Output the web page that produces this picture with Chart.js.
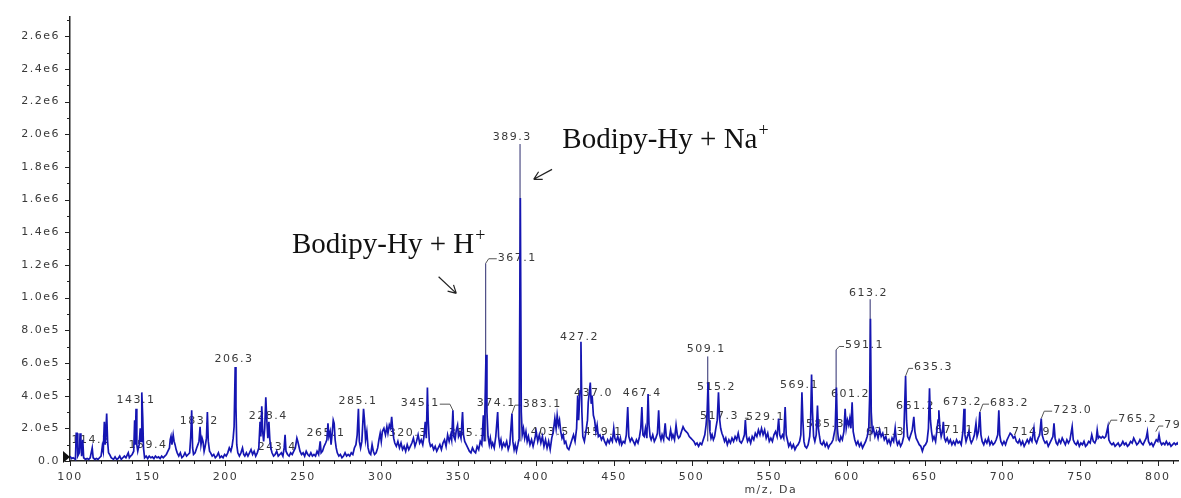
<!DOCTYPE html>
<html>
<head>
<meta charset="utf-8">
<script src="https://cdn.jsdelivr.net/npm/chart.js@4/dist/chart.umd.min.js"></script>
<style>
  html, body { margin: 0; padding: 0; background: #fff; }
  #wrap { position: relative; width: 1181px; height: 498px; }
</style>
</head>
<body>
<div id="wrap"><canvas id="spec"></canvas></div>
<script>
// ===== Spectrum data: [m/z, intensity in 1e5 counts] =====
const profileA = [
  [100,0.3],[101,0.15],[102,0.2],[103.5,0.1],[104,1.7],[104.6,1.7],[105,0.3],[106,0.5],[106.5,1.7],[107,1.2],
  [107.5,0.3],[108.2,1.3],[108.8,0.2],[110,0.1],[111,0.15],[112,0.1],[113,0.2],[114.3,0.8],[114.9,0.2],[116,0.1],
  [117,0.15],[118,0.1],[119,0.2],[120,0.3],[120.8,0.9],[121.4,0.6],[122.1,2.4],[122.7,1.0],[123.6,2.9],[124.2,1.2],
  [124.8,0.5],[125.5,0.4],[126.5,0.2],[128,0.1],[129,0.25],[130,0.1],[131,0.15],[132,0.3],[133,0.1],[134,0.2],
  [135,0.3],[136,0.2],[137.5,0.5],[138.2,0.2],[139,0.3],[140,0.4],[141,0.6],[141.6,2.5],[142,1.0],[142.5,3.2],
  [143,1.0],[143.6,0.6],[144.5,1.0],[145.2,2.0],[145.7,1.2],[146.2,4.2],[146.8,2.7],[147.3,0.8],[148,0.2],[149,0.3],
  [150,0.15],[151,0.3],[152,0.2],[153,0.25],[154,0.15],[155,0.3],[156,0.2],[157,0.25],[158,0.15],[159,0.3],
  [160,0.2],[161,0.3],[162,0.4],[163,0.6],[164,0.8],[164.5,1.3],[165,1.5],[165.6,1.0],[166.4,1.6],[167,1.2],
  [167.6,1.0],[168.3,0.7],[169,0.5],[170,0.3],[171,0.5],[172,0.2],[173,0.3],[174,0.5],[175,0.3],[176,0.4],
  [177,0.5],[177.7,1.5],[178.3,3.1],[178.9,0.8],[179.5,0.4],[180.5,0.5],[181.5,0.8],[182.3,1.0],[183,1.2],[183.7,2.1],
  [184.3,1.0],[185,1.4],[185.6,1.2],[186.3,0.6],[187,0.9],[187.8,1.4],[188.4,3.0],[189,1.2],[189.8,0.6],[190.5,0.5],
  [191.5,0.3],[192.5,0.4],[193.5,0.2],[194.5,0.3],[195.5,0.5],[196.5,0.2],[197.5,0.3],[198.5,0.2],[199.5,0.4],[200.5,0.3],
  [201.5,0.5],[202.5,0.8],[203.5,0.6],[204.3,0.9],[205,1.4],[205.6,2.1],[206.3,5.75],[206.8,3.3],[207.3,1.0],[208,0.5],
  [209,0.3],[210,0.5],[211,0.8],[211.8,0.4],[212.5,0.3],[213.5,0.5],[214.5,0.3],[215.5,0.5],[216.5,0.7],[217.5,0.4],
  [218.5,0.6],[219.5,0.3],[220.5,0.5],[221.5,0.8],[222.3,2.4],[222.8,1.5],[223.4,3.35],[224,1.8],[224.6,1.2],[225.3,2.0],
  [226,3.9],[226.6,2.6],[227.3,1.4],[228,2.4],[228.6,1.3],[229.2,0.8],[230,0.5],[231,0.3],[232,0.4],[233,0.6],
  [234,0.3],[235,0.4],[236,0.5],[237,0.3],[237.8,0.8],[238.4,1.6],[239,0.6],[240,0.4],[241,0.3],[242,0.5],
  [243,0.4],[244,0.6],[245,0.8],[246,1.4],[246.6,1.2],[247.3,0.9],[248,0.6],[249,0.4],[250,0.5]
];
const profileB = [
  [251,0.3],[252,0.6],[253,0.4],[254,0.3],[255,0.5],[256,0.3],[257,0.4],[258,0.3],[259,0.6],[260,0.4],
  [261,1.2],[261.6,0.5],[262.5,0.6],[263.5,0.9],[264.5,1.1],[265.3,1.3],[266,2.3],[266.6,1.5],[267.4,1.8],[268,1.0],
  [268.8,1.8],[269.4,2.5],[270,2.3],[270.6,1.3],[271.3,0.8],[272,0.5],[273,0.3],[274,0.4],[275,0.2],[276,0.3],
  [277,0.5],[278,0.3],[279,0.4],[280,0.3],[281,0.5],[282,0.4],[283,0.8],[284,1.0],[284.8,1.6],[285.6,3.2],
  [286.2,1.2],[287,0.8],[287.8,1.2],[288.9,3.2],[289.5,2.5],[290.2,1.3],[291,1.8],[291.8,0.8],[292.6,0.5],[293.5,0.4],
  [294.4,1.0],[295.2,0.6],[296,0.4],[297,0.5],[298,0.8],[298.8,1.3],[299.6,1.7],[300.3,1.2],[301,1.8],[302,2.0],
  [303,1.6],[303.9,2.1],[304.6,1.7],[305.5,2.2],[306.3,2.0],[307,2.7],[307.6,2.0],[308.3,1.4],[309,1.1],[310,0.9],
  [311,1.2],[312,0.8],[313,1.1],[314,0.7],[315,0.9],[316,0.6],[317,1.0],[318,0.7],[319,0.9],[320,1.1],
  [321,1.4],[322,0.9],[323,1.2],[324,1.6],[325,1.1],[326,1.3],[327,1.0],[327.8,1.5],[328.6,2.4],[329.3,1.4],
  [330,4.5],[330.5,2.5],[331.2,1.2],[332,0.9],[333,1.0],[334,0.7],[335,0.9],[336,0.6],[337,0.8],[338,1.0],
  [339,0.7],[340,1.1],[341,1.3],[342,0.9],[343,1.6],[344,1.2],[345,1.6],[345.6,1.3],[346.4,3.1],[347,1.5],
  [347.8,1.3],[348.6,1.9],[349.4,2.2],[350,1.5],[350.8,1.7],[351.6,1.4],[352.6,3.0],[353.2,1.6],[354,1.2],[355,1.0],
  [356,0.8],[357,0.6],[358,0.5],[359,0.8],[360,0.6],[361,0.5],[362,0.9],[363,0.7],[364,1.2],[365,1.0],
  [366,2.8],[366.6,1.2],[367.7,6.5],[368.3,3.0],[369,1.5],[369.8,1.0],[370.5,1.4],[371.3,0.9],[372,1.1],[373,0.8],
  [374,1.5],[375.2,3.0],[375.8,1.5],[376.5,1.0],[377.3,1.3],[378,0.8],[379,1.1],[380,0.9],[381,1.2],[382,0.7],
  [383,1.0],[384.4,2.9],[385,1.2],[385.8,0.7],[386.5,1.0],[387.3,0.6],[388.2,1.0],[389,1.4],[389.8,16.1],[390.4,3.0],
  [391,1.6],[391.8,2.0],[392.6,1.4],[393.4,1.8],[394.2,1.2],[395,1.5],[396,1.0],[397,1.3],[398,0.9],[399,1.3],[400,1.8]
];
const profileC = [
  [401,1.2],[402,1.6],[403,1.1],[404,1.5],[405,0.9],[406,1.3],[407,0.8],[408,1.2],[409,0.7],[410,1.4],
  [411,1.8],[412,2.6],[412.8,2.0],[413.5,2.8],[414.3,2.2],[415,2.5],[415.8,1.8],[416.6,1.4],[417.4,1.6],[418.2,1.1],
  [419,1.2],[420,0.8],[421,0.7],[422,1.0],[423,1.3],[424,1.6],[425,1.2],[426,2.0],[426.7,4.0],[427.3,2.5],
  [428.2,4.3],[428.8,7.3],[429.4,3.0],[430,1.5],[431,1.2],[432,1.8],[433,2.5],[433.5,3.6],[434.2,4.2],[434.8,4.8],
  [435.4,3.5],[436,4.0],[436.8,2.8],[437.6,2.5],[438.4,1.8],[439.2,2.2],[440,1.5],[441,1.6],[442,1.3],[443,1.5],
  [444,1.2],[445,1.0],[446,1.3],[447,1.1],[448,1.4],[449,1.2],[449.9,2.0],[450.6,1.4],[451.5,1.2],[452.5,1.5],
  [453.5,1.1],[454.2,1.4],[455,1.0],[456,1.2],[457,1.1],[458,1.6],[458.9,3.3],[459.6,1.5],[460.5,1.2],[461.5,1.4],
  [462.5,1.2],[463.5,1.0],[464.5,1.3],[465.5,1.1],[466.5,1.5],[467.3,2.0],[468,3.3],[468.7,1.6],[469.5,1.5],[470.3,2.0],
  [471.2,1.4],[472,4.1],[472.6,2.2],[473.3,1.5],[474,1.3],[475,1.6],[476,1.2],[477,1.4],[478,1.7],[478.8,3.1],
  [479.5,1.6],[480.3,1.3],[481,1.6],[482,1.3],[483,2.3],[483.7,1.5],[484.5,1.4],[485.5,1.3],[486.5,1.9],[487.3,1.4],
  [488,1.6],[489,1.3],[490,2.2],[490.8,1.6],[491.6,1.4],[492.5,1.5],[493.5,1.8],[494.5,2.1],[495.5,1.9],[496.5,1.8],
  [497.5,1.7],[498.5,1.5],[499.5,1.4],[500.5,1.3],[501.5,1.2],[502.5,1.0],[503.5,1.1],[504.5,0.9],[505.5,1.1],[506.5,1.0],
  [507.5,1.3],[508.5,1.6],[509.3,2.2],[510,3.0],[510.6,4.8],[511.2,2.5],[511.8,1.8],[512.5,1.4],[513.2,1.6],[514,1.3],
  [514.8,1.5],[515.6,2.0],[516.5,2.5],[517.3,4.2],[518,2.6],[518.7,2.0],[519.5,1.7],[520.3,1.5],[521.2,1.2],[522,1.4],
  [523,1.0],[524,1.3],[525,1.1],[526,1.4],[527,1.2],[528,1.5],[529,1.3],[530,1.7],[531,1.2],[532,1.1],
  [533,1.3],[534,1.6],[534.6,2.5],[535.3,1.5],[536,1.2],[537,1.4],[538,1.1],[539,1.5],[540,1.3],[541,1.7],
  [542,1.5],[543,1.9],[544,1.6],[545,2.0],[546,1.6],[547,1.9],[548,1.4],[549,1.7],[550,1.2]
];
const profileD = [
  [551,1.4],[552,1.2],[553,1.6],[554,1.8],[555,1.5],[556,2.6],[556.7,1.6],[557.5,1.4],[558.5,1.6],[559.3,1.4],
  [560.2,3.3],[560.9,1.6],[561.6,1.3],[562.5,0.9],[563.5,1.1],[564.5,0.8],[565.5,1.0],[566.5,0.7],[567.5,0.9],[568.5,1.0],
  [569.5,1.2],[570.3,1.6],[571,4.2],[571.6,2.5],[572.3,1.2],[573,0.9],[574,0.8],[575,1.0],[576,1.5],[576.6,2.5],
  [577.2,5.3],[577.8,3.0],[578.5,1.5],[579.3,1.2],[580.2,1.6],[581,3.4],[581.6,2.0],[582.3,1.5],[583,1.1],[584,1.0],
  [585,1.2],[586,0.9],[587,1.1],[588,0.8],[589,1.0],[590,1.1],[591,1.3],[592.4,2.0],[593.2,4.5],[593.8,2.0],
  [594.5,1.3],[595.3,1.2],[596,1.5],[597,1.3],[598,1.8],[598.8,3.2],[599.5,2.0],[600.3,2.5],[601.1,2.2],[601.8,2.6],
  [602.5,2.0],[603.3,3.6],[604,1.8],[605,1.3],[606,1.0],[607,1.2],[608,0.9],[609,1.1],[610,0.8],[611,1.0],
  [612,1.2],[613,1.5],[614,2.0],[614.6,4.0],[615.1,8.7],[615.6,3.0],[616.3,1.8],[617,2.0],[618,1.5],[619,1.8],
  [620,1.4],[621,1.9],[622,1.5],[623,1.7],[624,1.3],[625,1.5],[626,1.1],[627,1.3],[628,1.0],[629,1.4],
  [630,1.2],[631,2.0],[631.7,1.3],[632.5,1.0],[633.5,1.2],[634.5,0.9],[635.5,1.1],[636.5,1.5],[637.7,5.2],[638.3,2.5],
  [639,1.5],[640,1.3],[641,1.6],[642,1.9],[643,2.7],[643.7,1.8],[644.5,1.4],[645.5,1.2],[646.5,1.0],[647.5,0.9],
  [648.5,0.6],[649.5,0.9],[650.5,1.0],[651.5,1.2],[652.4,2.0],[653.1,4.45],[653.7,2.5],[654.4,1.8],[655.2,1.3],[656,1.5],
  [657,1.2],[658,2.0],[658.6,2.5],[659.1,3.1],[659.8,2.0],[660.6,1.5],[661.4,1.8],[662,2.4],[662.7,1.4],[663.5,1.2],
  [664.5,1.4],[665.5,1.1],[666.5,1.3],[667.5,1.0],[668.5,1.2],[669.5,1.0],[670.5,1.3],[671.5,1.1],[672.5,1.2],[673.5,1.0],
  [674.6,1.8],[675.3,3.2],[675.9,1.6],[676.6,1.2],[677.5,1.5],[678.4,1.8],[679.3,1.3],[680,1.1],[681,1.3],[682,1.6],
  [683,2.3],[683.7,1.5],[684.6,1.8],[685.5,3.0],[686.2,1.6],[687,1.2],[688,1.0],[689,1.3],[690,1.1],[691,1.4],
  [692,1.0],[693,1.2],[694,1.0],[695,1.1],[696,1.3],[697,1.6],[697.7,3.1],[698.3,1.6],[699,1.2],[700,1.0]
];
const profileE = [
  [701,1.2],[702,1.0],[703,1.3],[704,1.5],[705,1.7],[706,1.6],[707,1.4],[708,1.5],[709,1.2],[710,1.1],
  [711,1.3],[712,1.0],[713,1.2],[714,0.9],[715,1.1],[716,1.3],[717,1.1],[718,1.4],[719,1.2],[720.3,2.0],
  [721,1.3],[722,1.1],[723,1.4],[724,1.6],[725,2.6],[725.6,1.6],[726.5,1.3],[727.5,1.1],[728.5,1.2],[729.5,0.9],
  [730.5,1.1],[731.5,1.3],[732.5,1.5],[733.2,2.3],[733.9,1.4],[734.7,1.1],[735.5,1.0],[736.5,1.3],[737.5,1.1],[738.5,1.4],
  [739.5,1.2],[740.5,1.0],[741.5,1.3],[742.5,1.1],[743.5,1.3],[744.9,2.1],[745.6,1.3],[746.5,1.1],[747.5,1.0],[748.5,1.2],
  [749.5,0.9],[750.5,1.1],[751.5,1.0],[752.5,1.2],[753.5,0.9],[754.5,1.0],[755.5,1.2],[756.5,1.1],[757.5,1.6],[758.5,1.2],
  [759.5,1.1],[760.3,1.3],[761,1.9],[761.7,1.4],[762.5,1.5],[763.5,1.4],[764.5,1.5],[765.5,1.4],[766.5,1.5],[767.9,2.1],
  [768.5,1.3],[769.5,1.1],[770.5,1.0],[771.5,1.1],[772.5,0.9],[773.5,1.0],[774.5,1.1],[775.5,0.9],[776.5,1.0],[777.5,1.2],
  [778.5,1.0],[779.5,1.1],[780.5,0.9],[781.5,1.0],[782.5,1.2],[783.5,1.1],[784.5,1.4],[785.5,1.2],[786.5,1.0],[787.5,1.1],
  [788.5,1.3],[789.5,1.1],[790.5,1.0],[791.5,1.2],[792.5,1.4],[793.3,1.8],[794,1.2],[795,1.0],[796,1.1],[797,0.9],
  [798,1.1],[799,1.3],[800,1.2],[800.8,1.6],[801.5,1.2],[802.5,1.0],[803.5,1.1],[804.5,1.0],[805.5,1.2],[806.5,1.0],
  [807.5,1.1],[808.5,0.9],[809.5,1.0],[810.5,1.1],[811.5,1.0],[812.5,1.1],[813,1.0]
];

// thin centroid sticks that rise above the profile
const stickMz  = [367.5, 389.6, 510.4, 593.0, 614.9];
const stickTop = [12.1, 19.4, 6.4, 6.8, 9.9];

// axis tick values
const yTicks = [0, 2e5, 4e5, 6e5, 8e5, 1e6, 1.2e6, 1.4e6, 1.6e6, 1.8e6, 2e6, 2.2e6, 2.4e6, 2.6e6];
const xTicks = [100, 150, 200, 250, 300, 350, 400, 450, 500, 550, 600, 650, 700, 750, 800];

// peak labels (text centre in data units) and optional leader target
const peakLabels = ["114.2","143.1","159.4","183.2","206.3","228.4","243.4","265.1","285.1","320.3",
                    "345.1","355.1","374.1","383.1","367.1","389.3","403.5","427.2","437.0","459.1",
                    "467.4","509.1","515.2","517.3","529.1","569.1","585.3","591.1","601.2","613.2",
                    "621.3","635.3","661.2","671.1","673.2","683.2","714.9","723.0","765.2","793.1"];
const labelMz  = [113.5,142.5,150.2,183.1,205.6,227.5,233.3,264.8,285.4,317.6,
                  325.4,356.3,374.3,403.9,387.8,384.6,409.1,427.8,436.8,443.2,
                  468.3,509.5,516.0,517.9,547.5,569.4,586.2,611.3,602.3,613.8,
                  624.8,655.7,644.1,669.2,674.4,704.6,718.8,745.2,787.1,816.7];
const labelInt = [1.28,3.72,0.98,2.44,6.22,2.74,0.85,1.71,3.66,1.71,
                  3.54,1.71,3.54,3.48,12.44,19.82,1.77,7.56,4.15,1.77,
                  4.15,6.83,4.51,2.74,2.68,4.63,2.26,7.07,4.09,10.30,
                  1.77,5.73,3.35,1.89,3.60,3.54,1.77,3.11,2.56,2.2];
const leaderMz  = [null,null,null,null,null,null,null,null,null,null,
                   346.4,null,null,384.4,367.5,null,null,null,null,null,
                   null,null,null,null,534.6,null,null,593.0,null,null,
                   null,637.7,null,null,null,685.5,null,725.0,767.9,798.7];
const leaderInt = [null,null,null,null,null,null,null,null,null,null,
                   3.1,null,null,2.9,12.1,null,null,null,null,null,
                   null,null,null,null,2.5,null,null,6.8,null,null,
                   null,5.2,null,null,null,3.0,null,2.6,2.1,1.8];

// ion annotations: [text, superscript, left m/z, baseline intensity]
const ionNotes = [
  ["Bodipy-Hy + Na", "+", 416.8, 19.16],
  ["Bodipy-Hy + H", "+", 242.8, 12.76]
];
// arrows: [from m/z, from int, to m/z, to int]
const ionArrows = [
  [410.2, 17.85, 398.4, 17.24],
  [337.2, 11.28, 348.6, 10.26]
];

const SCALE = 1e5;
const Y_MAX = 2.72e6;
const X_MIN = 100, X_MAX = 813;

const profile = [].concat(profileA, profileB, profileC, profileD, profileE)
  .map(p => ({ x: p[0], y: p[1] * SCALE }));
const sticks = [];
stickMz.forEach((m, i) => {
  sticks.push({ x: m, y: 1.2 * SCALE }, { x: m, y: stickTop[i] * SCALE }, { x: m, y: null });
});

const LABEL_FONT = '11px "DejaVu Sans"';

function fmtIntensity(v) {
  if (v === 0) return "0.0";
  return v.toExponential(1).replace("e+", "e");
}

// ===== draws tick marks, peak labels, annotations =====
const decorPlugin = {
  id: "decor",
  beforeDraw(chart) {
    chart.ctx.letterSpacing = "1.5px";
  },
  beforeDatasetsDraw(chart) {
    const { ctx, scales: { x, y } } = chart;
    ctx.save();
    ctx.font = LABEL_FONT;
    ctx.letterSpacing = "1.5px";
    ctx.fillStyle = "#3a3a3a";
    ctx.strokeStyle = "#555";
    ctx.lineWidth = 1;
    ctx.textAlign = "center";
    ctx.textBaseline = "middle";
    peakLabels.forEach((t, i) => {
      const tx = x.getPixelForValue(labelMz[i]);
      const ty = y.getPixelForValue(labelInt[i] * SCALE);
      ctx.fillText(t, tx, ty);
      if (leaderMz[i] != null) {
        const w = ctx.measureText(t).width;
        const px = x.getPixelForValue(leaderMz[i]);
        const py = y.getPixelForValue(leaderInt[i] * SCALE);
        ctx.beginPath();
        if (px < tx) {
          ctx.moveTo(px, py);
          ctx.lineTo(px + 3, ty + 1);
          ctx.lineTo(tx - w / 2 - 1, ty + 1);
        } else {
          ctx.moveTo(tx + w / 2, ty + 1);
          ctx.lineTo(px - 3, ty + 1);
          ctx.lineTo(px, py);
        }
        ctx.stroke();
      }
    });
    ctx.restore();
  },
  afterDraw(chart) {
    const { ctx, chartArea, scales: { x, y } } = chart;
    ctx.save();
    ctx.strokeStyle = "#222";
    ctx.lineWidth = 1;
    // y ticks: major every 2e5, minor every 1e5
    for (let k = 0; k * 1e5 <= Y_MAX; k++) {
      const py = Math.round(y.getPixelForValue(k * 1e5)) + 0.5;
      const len = k % 2 === 0 ? 5 : 3;
      ctx.beginPath();
      ctx.moveTo(chartArea.left - len, py);
      ctx.lineTo(chartArea.left, py);
      ctx.stroke();
    }
    // x ticks: major every 50, minor every 10
    for (let v = X_MIN; v <= X_MAX; v += 10) {
      const px = Math.round(x.getPixelForValue(v)) + 0.5;
      const len = v % 50 === 0 ? 5 : 3;
      ctx.beginPath();
      ctx.moveTo(px, chartArea.bottom);
      ctx.lineTo(px, chartArea.bottom + len);
      ctx.stroke();
    }
    // little marker at the left of the baseline
    const my = y.getPixelForValue(0.25 * SCALE);
    ctx.fillStyle = "#111";
    ctx.beginPath();
    ctx.moveTo(chartArea.left - 7, my - 6);
    ctx.lineTo(chartArea.left, my);
    ctx.lineTo(chartArea.left - 7, my + 6);
    ctx.closePath();
    ctx.fill();

    // axis title
    ctx.font = LABEL_FONT;
    ctx.letterSpacing = "1.5px";
    ctx.fillStyle = "#3a3a3a";
    ctx.textAlign = "center";
    ctx.textBaseline = "middle";
    ctx.fillText("m/z, Da", x.getPixelForValue(551), chartArea.bottom + 29);

    // ion annotations
    ctx.letterSpacing = "0px";
    ctx.fillStyle = "#111";
    ctx.textAlign = "left";
    ctx.textBaseline = "alphabetic";
    ionNotes.forEach(n => {
      const lx = x.getPixelForValue(n[2]);
      const by = y.getPixelForValue(n[3] * SCALE);
      ctx.font = '29px "Liberation Serif"';
      ctx.fillText(n[0], lx, by);
      const w = ctx.measureText(n[0]).width;
      ctx.font = '18px "Liberation Serif"';
      ctx.fillText(n[1], lx + w + 1, by - 12);
    });
    ctx.strokeStyle = "#222";
    ctx.lineWidth = 1.2;
    ionArrows.forEach(a => {
      const x0 = x.getPixelForValue(a[0]), y0 = y.getPixelForValue(a[1] * SCALE);
      const x1 = x.getPixelForValue(a[2]), y1 = y.getPixelForValue(a[3] * SCALE);
      const ang = Math.atan2(y1 - y0, x1 - x0);
      ctx.beginPath();
      ctx.moveTo(x0, y0);
      ctx.lineTo(x1, y1);
      [-0.5, 0.5].forEach(d => {
        ctx.moveTo(x1, y1);
        ctx.lineTo(x1 - 9 * Math.cos(ang + d), y1 - 9 * Math.sin(ang + d));
      });
      ctx.stroke();
    });
    ctx.restore();
  }
};

new Chart(document.getElementById("spec"), {
  type: "line",
  data: {
    datasets: [
      { label: "profile", data: profile, borderColor: "#1515b2", borderWidth: 1.7, pointRadius: 0, tension: 0, fill: false },
      { label: "sticks", data: sticks, borderColor: "#2b2b6e", borderWidth: 1, pointRadius: 0, tension: 0, fill: false, spanGaps: false }
    ]
  },
  options: {
    responsive: true,
    maintainAspectRatio: false,
    animation: false,
    layout: { padding: { top: 15, right: 3, left: 0, bottom: 0 } },
    plugins: { legend: { display: false }, tooltip: { enabled: false } },
    scales: {
      x: {
        type: "linear",
        min: X_MIN,
        max: X_MAX,
        grid: { display: false, drawTicks: false },
        border: { display: true, color: "#222", width: 1.5 },
        ticks: {
          autoSkip: false,
          maxRotation: 0,
          padding: 10,
          color: "#3a3a3a",
          font: { family: "DejaVu Sans", size: 11 },
          callback: v => String(v)
        },
        afterBuildTicks: s => { s.ticks = xTicks.map(v => ({ value: v })); },
        afterFit: s => { s.height = 37; }
      },
      y: {
        min: 0,
        max: Y_MAX,
        grid: { display: false, drawTicks: false },
        border: { display: true, color: "#222", width: 1.5 },
        ticks: {
          autoSkip: false,
          padding: 10,
          color: "#3a3a3a",
          font: { family: "DejaVu Sans", size: 11 },
          callback: v => fmtIntensity(v)
        },
        afterBuildTicks: s => { s.ticks = yTicks.map(v => ({ value: v })); },
        afterFit: s => { s.width = 70; }
      }
    }
  },
  plugins: [decorPlugin]
});
</script>
</body>
</html>
